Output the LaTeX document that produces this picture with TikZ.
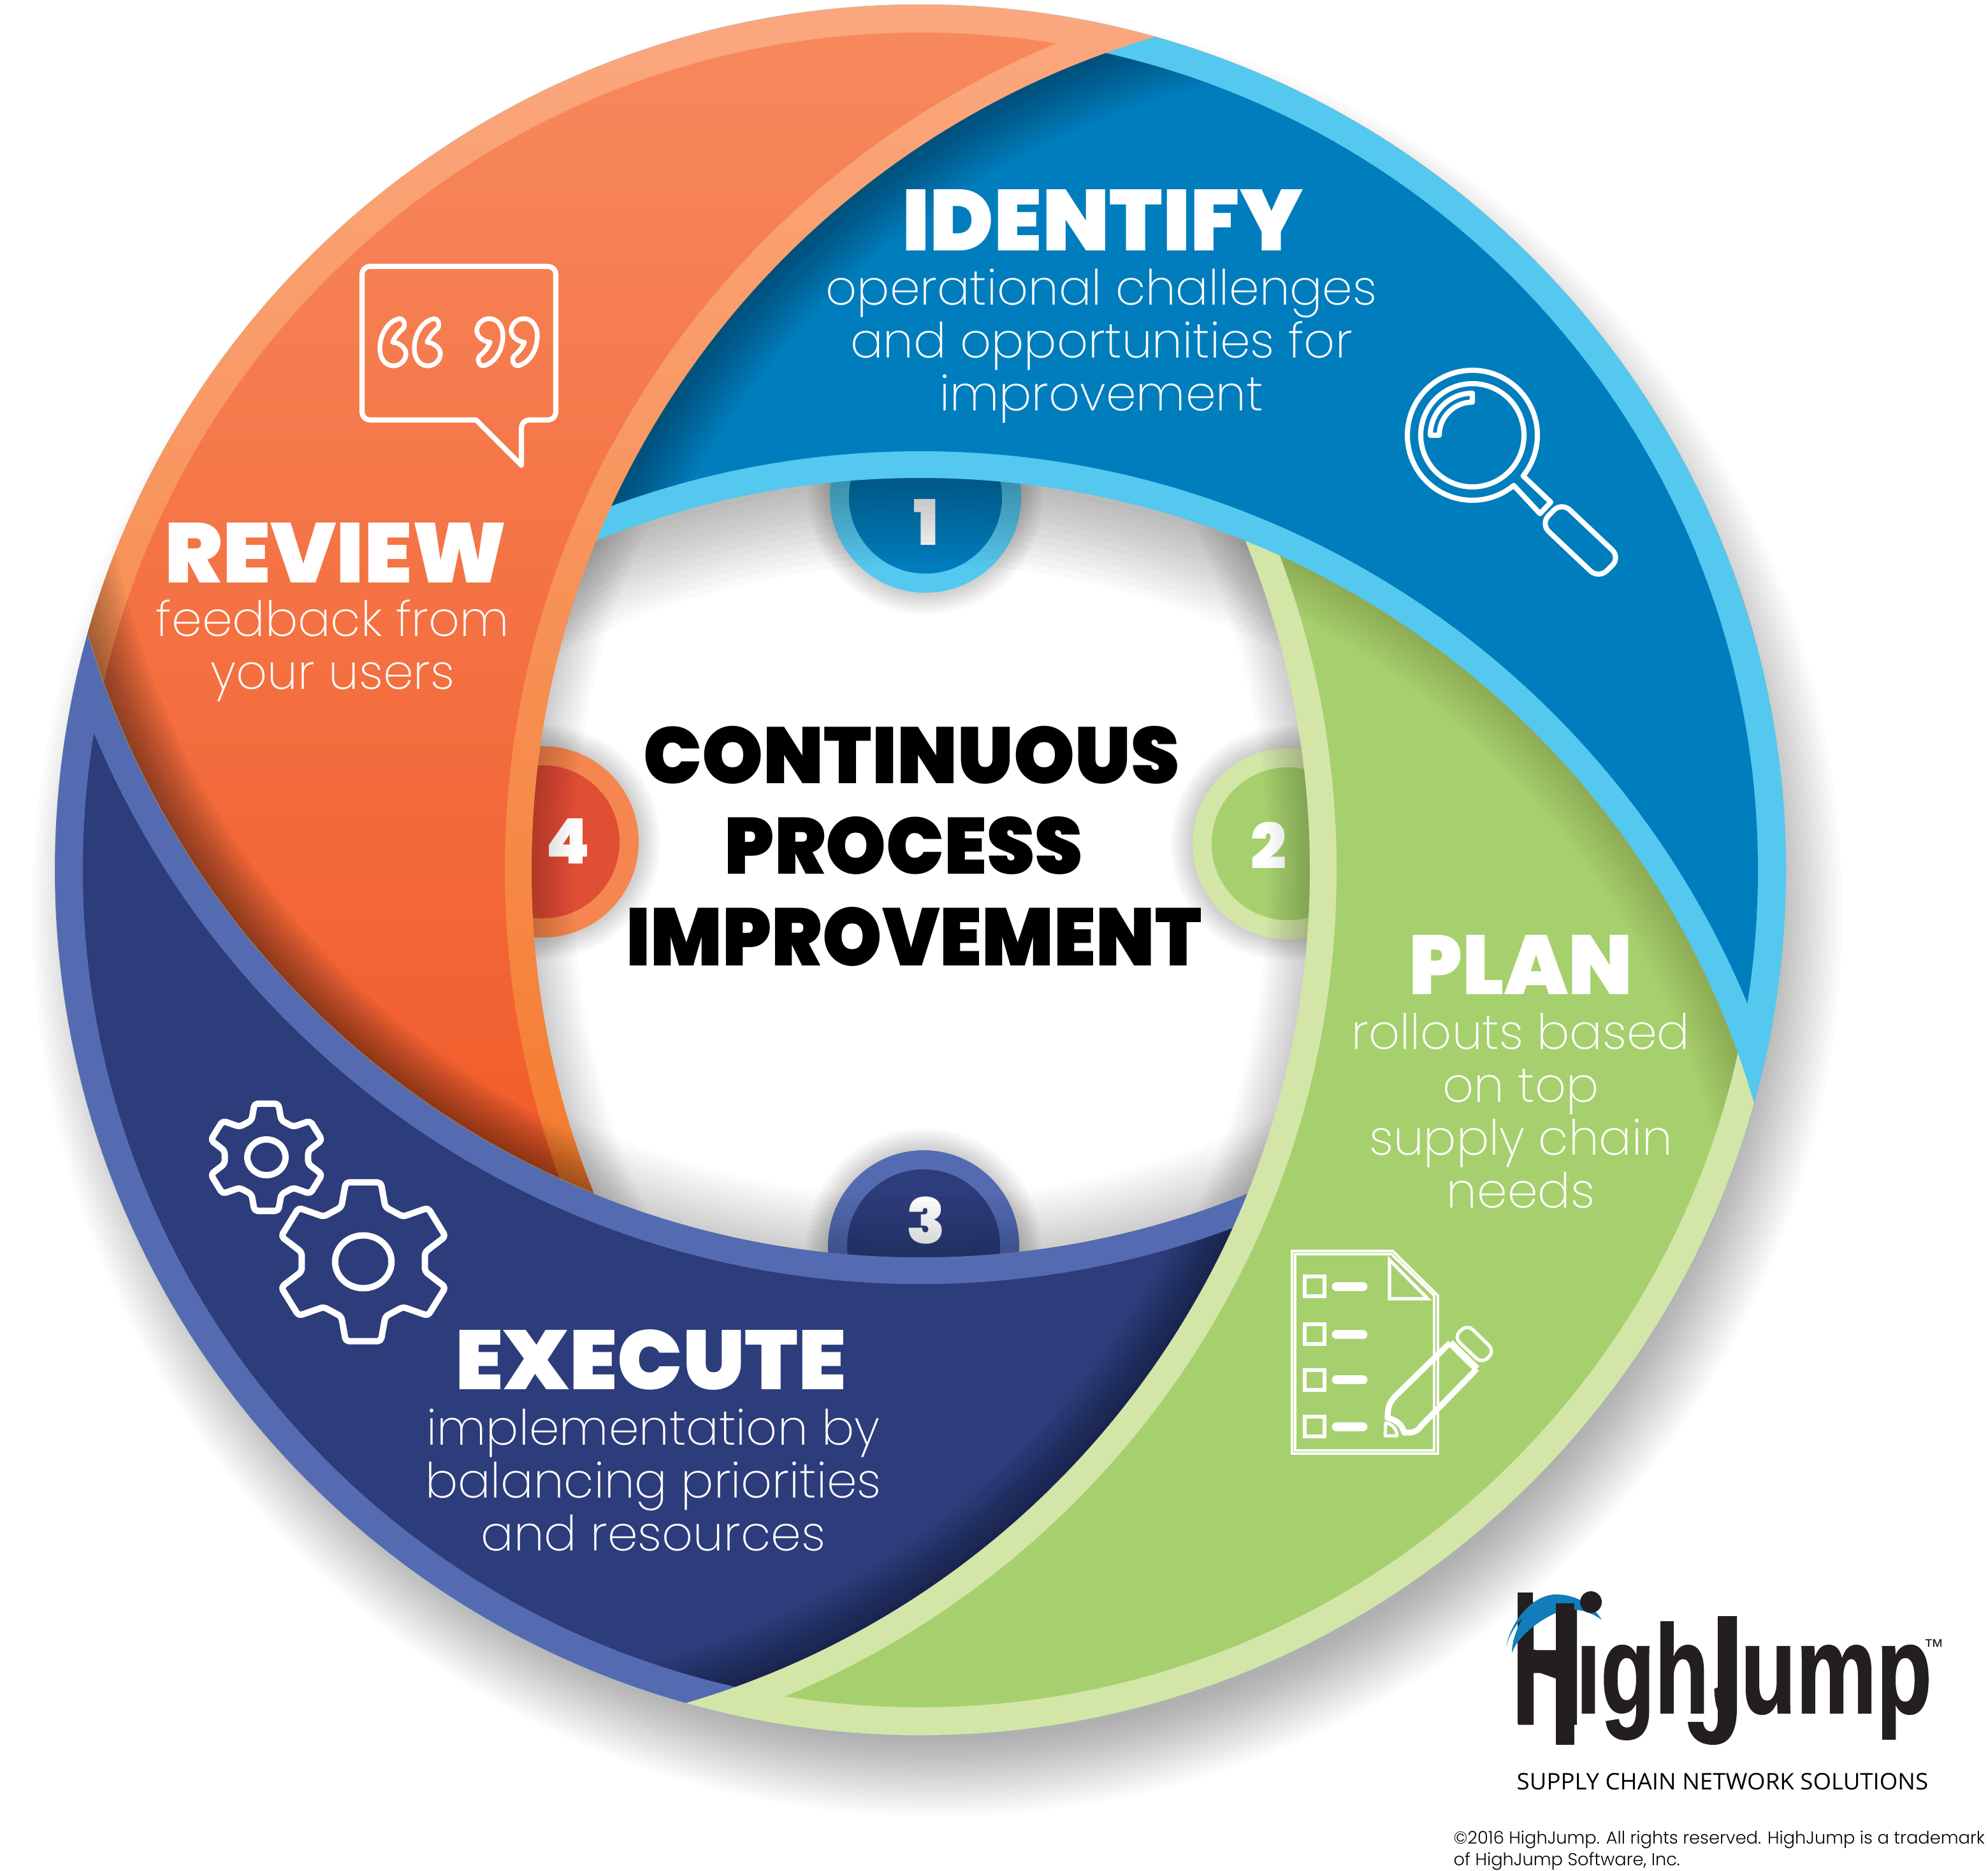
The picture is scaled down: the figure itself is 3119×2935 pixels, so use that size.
\documentclass[tikz,border=0pt]{standalone}
\usepackage{fontspec}
\usepackage{graphicx}
\setmainfont{Poppins Light}
\newfontfamily\headfont{Poppins Black}
\newfontfamily\thinfont{Poppins ExtraLight}
\newfontfamily\logofont[BoldFeatures={FakeBold=1.2}]{Liberation Sans}
\newfontfamily\tagfont{Open Sans}
\definecolor{bluerim}{HTML}{54C8EF}
\definecolor{bluebody}{HTML}{007DBD}
\definecolor{greenrim}{HTML}{D3E6A8}
\definecolor{greenbody}{HTML}{A6D06D}
\definecolor{navyrim}{HTML}{556BB1}
\definecolor{navybody}{HTML}{2D3C7A}
\definecolor{redbody}{HTML}{E04E34}
\definecolor{redrim}{HTML}{F6864F}
\definecolor{rimtop}{HTML}{FBA880}
\definecolor{rimlow}{HTML}{F06300}
\definecolor{bodytop}{HTML}{F78A5E}
\definecolor{bodylow}{HTML}{EE400C}
\definecolor{logoblue}{HTML}{127DBB}
\definecolor{logoblack}{HTML}{231F20}
\tikzset{
    iconline/.style={draw=white, line width=2.3pt, line join=round}, % the white outline icons
    thinline/.style={draw=white, line width=1.1pt, line join=miter},
    tabdisc/.style={circle, minimum size=2.7cm, inner sep=0pt, line width=8.5pt},
    headtext/.style={anchor=south, inner sep=0pt, text=white, font=\headfont},
    bodytext/.style={inner sep=0pt, text=white, align=center, font=\thinfont\fontsize{21.7}{23.6}\selectfont},
    numtext/.style={inner sep=0pt, text=white, font=\headfont\fontsize{28}{28}\selectfont},
    gearicon/.pic={
        \draw[iconline, line width=2.85pt, rounded corners=1.5pt] (78.3:86) -- (101.7:86) -- (110.6:62) -- (129.4:62)
            \foreach \a in {150,210,...,390} { -- (\a-11.7:86) -- (\a+11.7:86) -- (\a+20.6:62) -- (\a+39.4:62)} -- cycle;
        \draw[iconline, line width=2.85pt] (0,0) circle (28);
    },
    quotemark/.pic={
        \draw[iconline, line width=2.1pt] (0,0) .. controls (4,-10) and (11,-17) .. (17,-22)
            .. controls (21,-29) and (17,-37) .. (11,-37) .. controls (-6,-34) and (-20,-14) .. (-20,10)
            .. controls (-20,26) and (-11,37) .. (1,37) .. controls (14,37) and (21,26) .. (21,18)
            .. controls (21,10) and (12,1) .. (0,0) -- cycle;
    },
}
% blurred edge: stacked strokes round a circle
\newcommand{\softedge}[4]{\foreach \w in {1,...,12} {\draw[black, opacity=#4, line width=\w*#3*0.0237pt] (#1) circle (#2);}}
% one swirl: edge centre, rim paint, body paint, extra drawing on the body
\newcommand{\petal}[5]{
    \begin{scope}[even odd rule]
        \clip (middle) circle (1358) (#1) circle (1362);
        \path[#2] (0,0) rectangle (3119,2935);
        #5
        \clip (middle) circle (1314);
        \clip (middle) circle (1358) (#1) circle (1404);
        \path[#3] (0,0) rectangle (3119,2935);
        #4
    \end{scope}
}

\begin{document}
\begin{tikzpicture}[x=0.01cm, y=0.01cm, yscale=-1]
    \useasboundingbox (0,0) rectangle (3119,2935);
    \fill[white] (0,0) rectangle (3119,2935);

    \coordinate (middle) at (1444,1365);
    \coordinate (cblue) at (1444,2112);
    \coordinate (cgreen) at (693,1365);
    \coordinate (cnavy) at (1444,611);
    \coordinate (corange) at (2196,1365);

    % shadow under the ring
    \foreach \r in {1300,1306,...,1420} {\fill[black, opacity=.014] (1470,1430) circle (\r);}

    \begin{scope}
        \clip (middle) circle (1358);
        \fill[white] (middle) circle (1358);

        % number tabs
        \softedge{1452,780}{150}{70}{.016}
        \softedge{1449,1955}{150}{70}{.016}
        \softedge{2021,1324}{150}{70}{.016}
        \softedge{852,1321}{150}{70}{.016}
        \node[tabdisc, draw=bluerim, fill=bluebody] (tabone) at (1452,780) {};
        \node[tabdisc, draw=greenrim, fill=greenbody] (tabtwo) at (2021,1324) {};
        \node[tabdisc, draw=navyrim, fill=navybody] (tabthree) at (1449,1955) {};
        \node[tabdisc, draw=redrim, fill=redbody] (tabfour) at (852,1321) {};
        \node[numtext] (numone) at (1453,819) {1};
        \node[numtext] (numtwo) at (1990,1327) {2};
        \node[numtext] (numthree) at (1453,1915) {3};
        \node[numtext] (numfour) at (891,1320) {4};

        % shadows on the white middle
        \softedge{cblue}{1362}{270}{.025}
        \softedge{cgreen}{1362}{130}{.016}
        \softedge{cnavy}{1362}{190}{.014}
        \softedge{corange}{1362}{130}{.016}

        \petal{cnavy}{fill=navyrim}{fill=navybody}{\softedge{cgreen}{1362}{150}{.032}}{}
        \petal{cgreen}{fill=greenrim}{fill=greenbody}{\softedge{cblue}{1362}{150}{.012}}{}
        \begin{scope}
            \clip (700,0) rectangle (3119,2935);
            \petal{cblue}{fill=bluerim}{fill=bluebody}{\softedge{corange}{1362}{190}{.03}}{}
        \end{scope}
        \begin{scope}
            \clip (cnavy) circle (1362);
            \petal{corange}{top color=rimtop, bottom color=rimlow}{top color=bodytop, bottom color=bodylow}
                {\softedge{cnavy}{1362}{150}{.04} \draw[gray, line width=.8pt] (cnavy) circle (1362);}
                {\softedge{cnavy}{1362}{150}{.03} \draw[gray, line width=.8pt] (cnavy) circle (1362);}
        \end{scope}
    \end{scope}

    % titles
    \node[headtext] (identify) at (1730,394) {\resizebox{6.29cm}{0.96cm}{IDENTIFY}};
    \node[headtext] (review) at (527,915) {\resizebox{5.37cm}{0.94cm}{REVIEW}};
    \node[headtext] (plan) at (2386,1561) {\resizebox{3.5cm}{0.93cm}{PLAN}};
    \node[headtext] (execute) at (1021,2182) {\resizebox{6.13cm}{0.94cm}{EXECUTE}};
    \node[headtext, text=black] (continuous) at (1430,1231) {\resizebox{8.4cm}{0.9cm}{CONTINUOUS}};
    \node[headtext, text=black] (process) at (1418,1373) {\resizebox{5.62cm}{0.9cm}{PROCESS}};
    \node[headtext, text=black] (improvement) at (1434,1517) {\resizebox{9.02cm}{0.92cm}{IMPROVEMENT}};

    \node[bodytext] (identifytext) at (1728,543) {operational challenges\\and opportunities for\\improvement};
    \node[bodytext] (reviewtext) at (522,1021) {feedback from\\your users};
    \node[bodytext] (plantext) at (2386,1743) {rollouts based\\on top\\supply chain\\needs};
    \node[bodytext] (executetext) at (1025,2322) {implementation by\\balancing priorities\\and resources};

    % magnifying glass
    \draw[iconline] (2310,683) ++(38.7:102) arc (38.7:-309.5:102) -- (2416,806) -- (2433,788) -- cycle;
    \draw[iconline] (2310,683) circle (81);
    \draw[iconline] (2310,683) ++(180:66) arc (180:270:66) -- ++(0,14) arc (270:180:52) -- cycle;
    \draw[iconline, rounded corners=5pt] (2450,788) -- (2542,875) -- (2508,908) -- (2417,822) -- cycle;

    % speech bubble
    \draw[iconline, rounded corners=3.5pt] (568,418) -- (872,418) -- (872,659) -- (818,659) [sharp corners] -- (818,730) -- (747,659) [rounded corners=3.5pt] -- (568,659) -- cycle;
    \pic[yscale=-1] at (616,537) {quotemark};
    \pic[yscale=-1] at (670,537) {quotemark};
    \pic[rotate=180, yscale=-1] at (769,537) {quotemark};
    \pic[rotate=180, yscale=-1] at (823,537) {quotemark};

    % gears
    \pic[xscale=1.07] at (418,1816) {gearicon};
    \pic[xscale=1.58, yscale=1.48] at (570,1980) {gearicon};

    % checklist
    \draw[thinline] (2027,1963) -- (2185,1963) -- (2256,2033) -- (2256,2281) -- (2027,2281) -- cycle;
    \draw[thinline] (2032,1968) -- (2183,1968) -- (2250,2033) -- (2250,2276) -- (2032,2276) -- cycle;
    \draw[iconline, line width=1.5pt, line join=miter] (2180,1977) -- (2180,2038) -- (2240,2038) -- cycle;
    \foreach \y/\ytwo in {2003/2019, 2078/2094, 2150/2165, 2223/2239} {
        \draw[iconline, line width=1.6pt, line join=miter] (2047,\y) rectangle (2078,\y+31);
        \draw[draw=white, line width=4.2pt, line cap=round] (2097,\ytwo) -- (2138,\ytwo);
    }
    \draw[iconline, line width=2.6pt] (2275,2107) -- (2190,2190) .. controls (2180,2200) and (2177,2208) .. (2177,2225)
        .. controls (2190,2228) and (2200,2235) .. (2203,2248) -- (2212,2248) .. controls (2220,2248) and (2226,2243) .. (2230,2237) -- (2317,2148);
    \draw[iconline, line width=3.2pt, line cap=butt] (2275,2107) -- (2317,2148);
    \draw[iconline, line width=1.4pt] (2173,2253) -- (2174,2233) .. controls (2184,2234) and (2191,2242) .. (2192,2253) -- cycle;
    \draw[iconline, line width=1.5pt, rounded corners=3.5pt] (2281,2098) -- (2302,2078) -- (2345,2120) -- (2325,2140) -- cycle;

    % logo
    \node[inner sep=0pt, anchor=base west, text=logoblack, font=\logofont\bfseries\fontsize{10}{10}\selectfont] (highjump) at (2372,2688)
        {\makebox[28.45pt][l]{\raisebox{-4.8pt}{\scalebox{4.36}[7.82]{H}}}\makebox[61.45pt][l]{\scalebox{3.95}[5.6]{igh}}\makebox[11.95pt][l]{\scalebox{1.8}[5.6]{J}}\scalebox{4.04}[5.6]{ump}};
    \fill[white] (2476,2525) rectangle (2518,2582);
    \fill[logoblack] (2381,2499) rectangle (2405,2705);
    \fill[logoblack] (2405,2588) -- (2441,2600) -- (2441,2634) -- (2405,2621) -- cycle;
    \fill[logoblack] (2725,2536) -- (2725,2680) .. controls (2725,2720) and (2712,2738) .. (2688,2738) .. controls (2665,2738) and (2650,2725) .. (2648,2702)
        -- (2672,2702) .. controls (2673,2712) and (2678,2717) .. (2684,2717) .. controls (2691,2717) and (2695,2710) .. (2695,2695) -- (2695,2536) -- cycle;
    \fill[logoblue] (2363,2584) .. controls (2370,2545) and (2405,2500) .. (2444,2502) .. controls (2475,2503) and (2500,2520) .. (2513,2542)
        .. controls (2490,2525) and (2465,2522) .. (2441,2531) .. controls (2410,2545) and (2380,2570) .. (2372,2594)
        .. controls (2372,2575) and (2380,2555) .. (2389,2538) .. controls (2378,2550) and (2368,2565) .. (2363,2584) -- cycle;
    \fill[logoblack] (2441,2516) rectangle (2470,2738);
    \fill[logoblack] (2496,2514) ellipse [x radius=17, y radius=17];
    \node[inner sep=0pt, text=logoblack, font=\logofont\fontsize{9}{9}\selectfont] (trademark) at (3034,2584) {™};
    \node[inner sep=0pt, anchor=base west, text=black] (tagline) at (2379,2808) {\tagfont\resizebox{6.45cm}{0.26cm}{SUPPLY CHAIN NETWORK SOLUTIONS}};
    \node[inner sep=0pt, anchor=base west, text=black, font=\fontsize{7.75}{9.6}\selectfont] (copyone) at (2280,2893) {©2016 HighJump. All rights reserved. HighJump is a trademark};
    \node[inner sep=0pt, anchor=base west, text=black, font=\fontsize{7.75}{9.6}\selectfont] (copytwo) at (2280,2927) {of HighJump Software, Inc.};
\end{tikzpicture}
\end{document}
